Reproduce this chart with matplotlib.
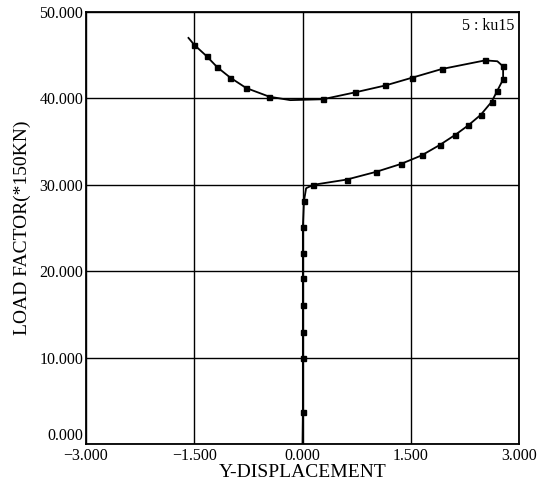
import numpy as np
import matplotlib.pyplot as plt

plt.rcParams['font.family'] = ['Liberation Serif', 'DejaVu Serif']

# Load path (x = Y-displacement, y = load factor)
disp = [0.0, 0.005, 0.005, 0.005, 0.005, 0.005, 0.005, 0.005, 0.02, 0.05, 0.15,
        0.61, 1.02, 1.36, 1.65, 1.90, 2.12, 2.30, 2.47, 2.62, 2.70, 2.78,
        2.78, 2.70, 2.53, 1.93, 1.52, 1.15, 0.73, 0.28, -0.17, -0.46,
        -0.78, -1.00, -1.18, -1.33, -1.50, -1.58]
load = [0.0, 3.7, 10.0, 13.0, 16.1, 19.2, 22.1, 25.1, 28.1, 29.6, 30.0,
        30.6, 31.5, 32.4, 33.4, 34.6, 35.8, 36.9, 38.1, 39.6, 40.9, 42.2,
        43.7, 44.3, 44.4, 43.4, 42.4, 41.5, 40.7, 39.9, 39.8, 40.2,
        41.2, 42.4, 43.6, 44.9, 46.2, 47.0]
# points of the path that carry a square marker
marked = [1, 2, 3, 4, 5, 6, 7, 8, 10, 11, 12, 13, 14, 15, 16, 17, 18, 19, 20,
          21, 22, 24, 25, 26, 27, 28, 29, 31, 32, 33, 34, 35, 36]

xticks = [-3.0, -1.5, 0.0, 1.5, 3.0]
yticks = [0, 10, 20, 30, 40, 50]

fig = plt.figure(figsize=(5.44, 4.93), dpi=100)
ax = fig.add_axes([86/544, 1 - 444/493, 433/544, 432/493])

ax.plot(disp, load, color='black', linewidth=1.3,
        marker='s', markersize=3.6, markevery=marked)

ax.set_xlim(-3, 3)
ax.set_ylim(0, 50)
ax.set_xticks(xticks)
ax.set_yticks(yticks)
ax.set_xticklabels([f"{v:.3f}".replace('-', '\u2212') for v in xticks])
ax.set_yticklabels([f"{v:.3f}" for v in yticks])
ax.tick_params(length=0, labelsize=11.5)
ax.tick_params(axis='x', pad=3)
ax.tick_params(axis='y', pad=2)
ax.get_yticklabels()[0].set_va('bottom')
ax.grid(True, color='black', linewidth=1.0)
for s in ax.spines.values():
    s.set_linewidth(1.3)

ax.set_xlabel('Y-DISPLACEMENT', fontsize=14, labelpad=0)
ax.set_ylabel('LOAD FACTOR(*150KN)', fontsize=14, labelpad=6)
ax.text(0.99, 0.985, '5 : ku15', transform=ax.transAxes,
        ha='right', va='top', fontsize=11.5)

fig.savefig('out.png', dpi=100)
